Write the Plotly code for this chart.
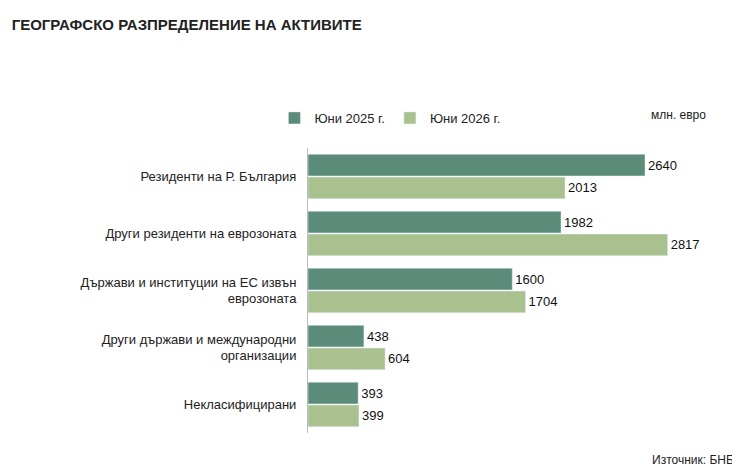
import plotly.graph_objects as go

categories = ["Резиденти на Р. България", "Други резиденти на еврозоната",
              "Държави и институции на ЕС извън<br>еврозоната",
              "Други държави и международни<br>организации", "Некласифицирани"]
jun_2025 = [2640, 1982, 1600, 438, 393]
jun_2026 = [2013, 2817, 1704, 604, 399]

dark = "#5b8c7a"
light = "#a9c08f"

fig = go.Figure()
fig.add_trace(go.Bar(y=categories, x=jun_2025, orientation="h", name="Юни 2025 г.",
                     marker_color=dark, text=jun_2025, textposition="outside",
                     textfont=dict(size=13, color="#111", family="Liberation Sans"),
                     cliponaxis=False))
fig.add_trace(go.Bar(y=categories, x=jun_2026, orientation="h", name="Юни 2026 г.",
                     marker_color=light, text=jun_2026, textposition="outside",
                     textfont=dict(size=13, color="#111", family="Liberation Sans"),
                     cliponaxis=False))

fig.update_layout(
    width=740, height=468,
    barmode="group", bargap=0.2, bargroupgap=0.05,
    plot_bgcolor="white", paper_bgcolor="white",
    font=dict(family="Liberation Sans", size=13, color="#222"),
    margin=dict(l=300, r=57, t=140, b=43),
    title=dict(text="<b>ГЕОГРАФСКО РАЗПРЕДЕЛЕНИЕ НА АКТИВИТЕ</b>", x=0.005, y=0.975,
               xanchor="left", yanchor="top", font=dict(size=15, color="#222")),
    legend=dict(orientation="h", xref="container", yref="container", x=0.36, y=0.765,
                xanchor="left", yanchor="middle", font=dict(size=13)),
    xaxis=dict(range=[0, 3000], visible=False),
    yaxis=dict(autorange="reversed", showline=True, linecolor="#bbb", ticks="",
               ticklabelstandoff=8, tickfont=dict(size=13)),
    annotations=[
        dict(text="млн. евро", xref="paper", yref="paper", x=1.044, y=1.116,
             xanchor="right", yanchor="middle", showarrow=False, font=dict(size=12)),
        dict(text="Източник: БНБ", xref="paper", yref="paper", x=1.117, y=-0.095,
             xanchor="right", yanchor="middle", showarrow=False, font=dict(size=12)),
    ],
)

fig.write_html("out.html")
